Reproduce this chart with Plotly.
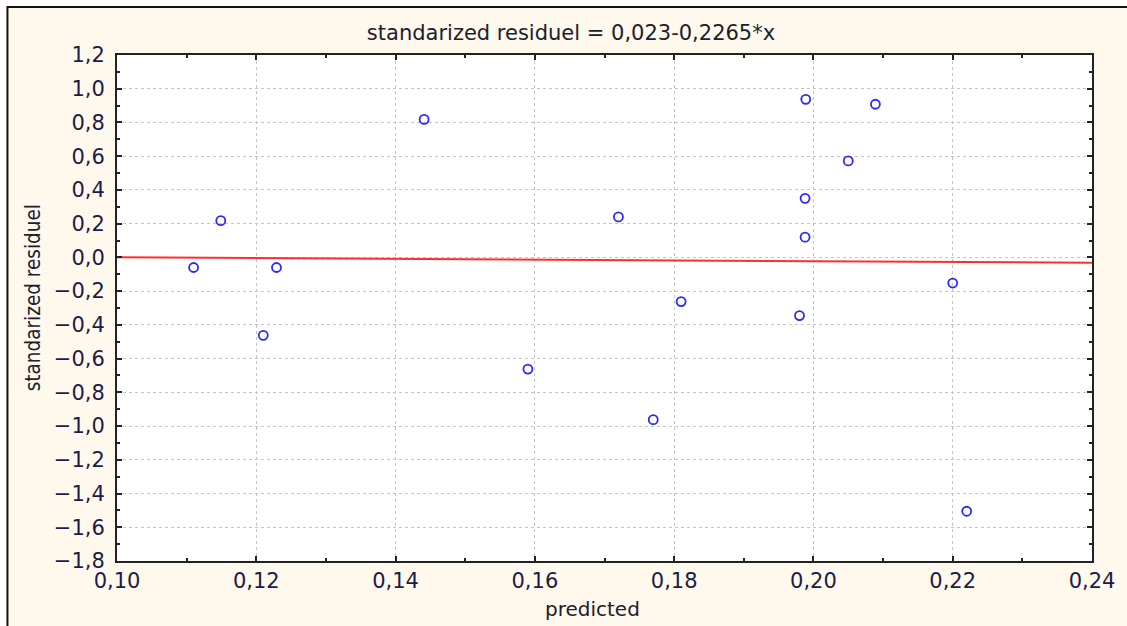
import plotly.graph_objects as go

# Data
predicted = [0.1110, 0.1149, 0.1210, 0.1229, 0.1441, 0.1590, 0.1720, 0.1770,
             0.1810, 0.1989, 0.2089, 0.2050, 0.1988, 0.1988, 0.1980, 0.2200, 0.2220]
std_resid = [-0.060, 0.218, -0.462, -0.060, 0.818, -0.662, 0.240, -0.962,
             -0.262, 0.937, 0.908, 0.572, 0.350, 0.120, -0.345, -0.152, -1.505]

fit_x = [0.10, 0.24]
fit_y = [0.0004, -0.0314]

title_text = "standarized residuel = 0,023-0,2265*x"
x_title = "predicted"
y_title = "standarized residuel"

W, H = 1127, 626
L, R, T, B = 117, 31, 55, 65
PW, PH = W - L - R, H - T - B

def px(xp):
    return (xp - L) / PW

def py(yp):
    return (H - B - yp) / PH

cream = "#FEF9EC"
main_font = "DejaVu Sans, Verdana, sans-serif"
tick_font = dict(family=main_font, size=21, color="#1c1c48")

fig = go.Figure()
fig.add_trace(go.Scatter(x=fit_x, y=fit_y, mode="lines",
                         line=dict(color="#FF2E2E", width=2), hoverinfo="skip"))
fig.add_trace(go.Scatter(x=predicted, y=std_resid, mode="markers",
                         marker=dict(symbol="circle-open", size=9, color="#2a2aff",
                                     line=dict(width=1.8, color="#2a2aff"))))

fig.update_layout(
    width=W, height=H,
    margin=dict(l=L, r=R, t=T, b=B),
    paper_bgcolor=cream, plot_bgcolor="white",
    showlegend=False,
    separators=", ",
    title=dict(text=title_text, x=571 / W, xref="container", xanchor="center",
               y=1 - 33 / H, yref="container", yanchor="middle",
               font=dict(family=main_font, size=21, color="#20202c")),
)

fig.update_xaxes(range=[0.10, 0.24], dtick=0.02, tick0=0.10, tickformat=".2f",
                 ticks="inside", ticklen=5, tickwidth=2, tickcolor="#222",
                 showline=True, linecolor="#222", linewidth=2, mirror="allticks",
                 showgrid=True, gridcolor="#c4c4c4", griddash="dot", gridwidth=1,
                 zeroline=False, tickfont=tick_font,
                 minor=dict(dtick=0.01, ticks="inside", ticklen=3, tickwidth=2,
                            tickcolor="#222", showgrid=False))
fig.update_yaxes(range=[-1.8, 1.2], dtick=0.2, tick0=-1.8, tickformat=".1f",
                 ticks="inside", ticklen=5, tickwidth=2, tickcolor="#222",
                 showline=True, linecolor="#222", linewidth=2, mirror="allticks",
                 showgrid=True, gridcolor="#c4c4c4", griddash="dot", gridwidth=1,
                 zeroline=False, tickfont=tick_font, ticklabelstandoff=6,
                 minor=dict(dtick=0.1, ticks="inside", ticklen=3, tickwidth=2,
                            tickcolor="#222", showgrid=False))

fig.add_annotation(text=x_title, xref="paper", yref="paper", x=px(594), y=py(609),
                   xanchor="center", yanchor="middle", showarrow=False,
                   font=dict(family=main_font, size=20, color="#20202c"))
fig.add_annotation(text=y_title, xref="paper", yref="paper", x=px(33), y=py(298),
                   xanchor="center", yanchor="middle", showarrow=False, textangle=-90,
                   font=dict(family="Liberation Sans Narrow, DejaVu Sans Condensed, sans-serif",
                             size=20.5, color="#20202c"))

# white outside strips and outer frame
fig.add_shape(type="rect", xref="paper", yref="paper", layer="below",
              x0=px(-5), x1=px(W + 5), y0=py(6), y1=py(-5),
              fillcolor="white", line=dict(width=0))
fig.add_shape(type="rect", xref="paper", yref="paper", layer="below",
              x0=px(-5), x1=px(6), y0=py(H + 5), y1=py(-5),
              fillcolor="white", line=dict(width=0))
fig.add_shape(type="rect", xref="paper", yref="paper", layer="below",
              x0=px(7), x1=px(W + 10), y0=py(H + 10), y1=py(7),
              line=dict(color="#111", width=2))

fig.write_html("out.html")
